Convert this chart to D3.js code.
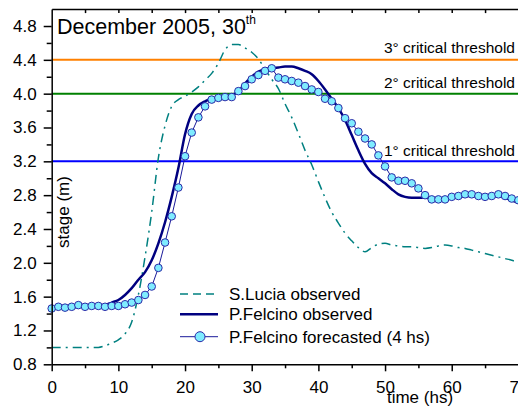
<!DOCTYPE html>
<html><head><meta charset="utf-8">
<script src="https://cdn.jsdelivr.net/npm/d3@7"></script>
<style>
body{margin:0;background:#fff;}
svg{display:block;font-family:"Liberation Sans",Arial,sans-serif;}
</style></head>
<body><svg id="c" width="518" height="416"></svg>
<script>
const hours = d3.range(0, 71);
const sLucia = [1.00,1.00,1.00,1.00,1.00,1.00,1.00,1.00,1.02,1.05,1.09,1.16,1.30,1.62,2.07,2.60,3.24,3.62,3.85,3.93,3.97,4.02,4.08,4.16,4.24,4.36,4.52,4.58,4.58,4.54,4.49,4.41,4.29,4.17,4.06,3.88,3.72,3.53,3.33,3.16,2.96,2.77,2.60,2.47,2.35,2.26,2.18,2.13,2.18,2.22,2.23,2.21,2.20,2.19,2.19,2.18,2.17,2.18,2.20,2.21,2.20,2.18,2.17,2.15,2.13,2.11,2.09,2.07,2.05,2.03,2.00];
const felcinoObs = [1.47,1.47,1.47,1.47,1.48,1.48,1.48,1.49,1.50,1.53,1.56,1.62,1.70,1.80,1.89,2.03,2.23,2.48,2.78,3.12,3.52,3.76,3.86,3.91,3.94,3.95,3.96,3.98,4.03,4.12,4.20,4.26,4.29,4.30,4.31,4.32,4.32,4.30,4.27,4.23,4.15,4.05,3.94,3.83,3.69,3.51,3.33,3.17,3.06,3.00,2.94,2.87,2.81,2.78,2.77,2.77,2.77,2.76,2.76,2.76,2.77,2.78,2.79,2.79,2.78,2.77,2.78,2.79,2.77,2.74,2.71];
const felcinoFc = [1.46,1.48,1.47,1.48,1.50,1.48,1.49,1.49,1.48,1.49,1.49,1.51,1.53,1.56,1.62,1.72,1.94,2.24,2.55,2.89,3.26,3.54,3.72,3.85,3.93,3.95,3.96,3.96,4.03,4.09,4.17,4.22,4.27,4.30,4.19,4.17,4.15,4.13,4.09,4.05,4.02,3.94,3.91,3.83,3.71,3.65,3.55,3.47,3.40,3.27,3.14,3.01,2.97,2.97,2.94,2.88,2.80,2.75,2.75,2.75,2.78,2.79,2.81,2.81,2.79,2.78,2.79,2.81,2.79,2.76,2.74];
const thresholds = [
  {value: 4.4, label: "3° critical threshold", color: "#ff8000"},
  {value: 4.0, label: "2° critical threshold", color: "#008000"},
  {value: 3.2, label: "1° critical threshold", color: "#0000ff"}
];
const yTicks = [0.8,1.2,1.6,2.0,2.4,2.8,3.2,3.6,4.0,4.4,4.8];
const xTicks = [0,10,20,30,40,50,60,70];
const seriesNames = ["S.Lucia observed","P.Felcino observed","P.Felcino forecasted (4 hs)"];

const svg = d3.select("#c");
const x = d3.scaleLinear().domain([0,70]).range([51.7,518.4]);
const y = d3.scaleLinear().domain([0.8,5.0]).range([364.3,9.1]);
const FS = 17;
const FONT = "'Liberation Sans',Arial,sans-serif";

// thresholds
const thG = svg.append("g");
thresholds.forEach((t,i)=>{
  thG.append("line").attr("x1",x(0)).attr("x2",x(70)).attr("y1",y(t.value)).attr("y2",y(t.value))
    .attr("stroke",t.color).attr("stroke-width",2);
});
const thLabelY = [53, 88, 156];
thresholds.forEach((t,i)=>{
  thG.append("text").attr("x",515).attr("y",thLabelY[i]).attr("text-anchor","end")
    .attr("font-size",15.5).attr("fill","#000").text(t.label);
});

// S.Lucia
svg.append("path").datum(hours)
  .attr("d", d3.line().x(d=>x(d)).y(d=>y(sLucia[d])).curve(d3.curveMonotoneX))
  .attr("fill","none").attr("stroke","#008080").attr("stroke-width",1.5)
  .attr("stroke-dasharray","9,5,2,5");

// forecast thin line
svg.append("path").datum(hours)
  .attr("d", d3.line().x(d=>x(d)).y(d=>y(felcinoFc[d])))
  .attr("fill","none").attr("stroke","#1a1a9a").attr("stroke-width",1);

// observed
svg.append("path").datum(hours)
  .attr("d", d3.line().x(d=>x(d)).y(d=>y(felcinoObs[d])).curve(d3.curveMonotoneX))
  .attr("fill","none").attr("stroke","#000080").attr("stroke-width",2.5);

// forecast circles
svg.append("g").selectAll("circle").data(hours).join("circle")
  .attr("cx",d=>x(d)).attr("cy",d=>y(felcinoFc[d])).attr("r",3.8)
  .attr("fill","#7fecff").attr("stroke","#2a2aa8").attr("stroke-width",1);

// axes
const axG = svg.append("g");
axG.append("g").attr("transform",`translate(${x(0)},0)`)
  .call(d3.axisLeft(y).tickValues(yTicks).tickFormat(d3.format(".1f")).tickSize(8).tickPadding(7).tickSizeOuter(0));
const minorY = d3.range(1.0,5.0,0.4).map(v=>+v.toFixed(1));
axG.append("g").attr("transform",`translate(${x(0)},0)`)
  .call(d3.axisLeft(y).tickValues(minorY).tickFormat("").tickSize(5).tickSizeOuter(0))
  .select(".domain").remove();
axG.append("g").attr("transform",`translate(0,${y(0.8)})`)
  .call(d3.axisBottom(x).tickValues(xTicks).tickFormat(d3.format("d")).tickSize(7).tickPadding(10).tickSizeOuter(0));
axG.append("g").attr("transform",`translate(0,${y(0.8)})`)
  .call(d3.axisBottom(x).tickValues(d3.range(5,70,10)).tickFormat("").tickSize(4).tickSizeOuter(0))
  .select(".domain").remove();
axG.append("g").attr("transform",`translate(0,${y(5.0)})`)
  .call(d3.axisBottom(x).tickValues(d3.range(5,70,5)).tickFormat("").tickSize(4).tickSizeOuter(0));
axG.selectAll("g").attr("font-size",FS).attr("font-family",FONT);
axG.selectAll(".domain").attr("stroke","#000").attr("stroke-width",1.5);
axG.selectAll(".tick line").attr("stroke","#000").attr("stroke-width",1.5);
axG.selectAll("text").attr("fill","#000");

// axis titles
svg.append("text").attr("transform","translate(69,212) rotate(-90)").attr("text-anchor","middle")
  .attr("font-size",FS).text("stage (m)");
svg.append("text").attr("x",420).attr("y",403).attr("text-anchor","middle")
  .attr("font-size",FS).text("time (hs)");

// title
const title = svg.append("text").attr("x",57).attr("y",34).attr("font-size",21.5);
title.append("tspan").text("December 2005, 30");
title.append("tspan").attr("font-size",12).attr("dy",-10.5).text("th");

// legend
const lg = svg.append("g");
const rowY = [294, 314.3, 336.7];
lg.append("line").attr("x1",180).attr("x2",218).attr("y1",rowY[0]).attr("y2",rowY[0])
  .attr("stroke","#008080").attr("stroke-width",1.5).attr("stroke-dasharray","8,5");
lg.append("line").attr("x1",180).attr("x2",218).attr("y1",rowY[1]).attr("y2",rowY[1])
  .attr("stroke","#000080").attr("stroke-width",2.5);
lg.append("line").attr("x1",180).attr("x2",218).attr("y1",rowY[2]).attr("y2",rowY[2])
  .attr("stroke","#1a1a9a").attr("stroke-width",1);
lg.append("circle").attr("cx",200).attr("cy",rowY[2]).attr("r",5)
  .attr("fill","#7fecff").attr("stroke","#2a2aa8").attr("stroke-width",1);
seriesNames.forEach((s,i)=>{
  lg.append("text").attr("x",229).attr("y",rowY[i]).attr("dy","0.35em").attr("font-size",FS).text(s);
});
</script></body></html>
